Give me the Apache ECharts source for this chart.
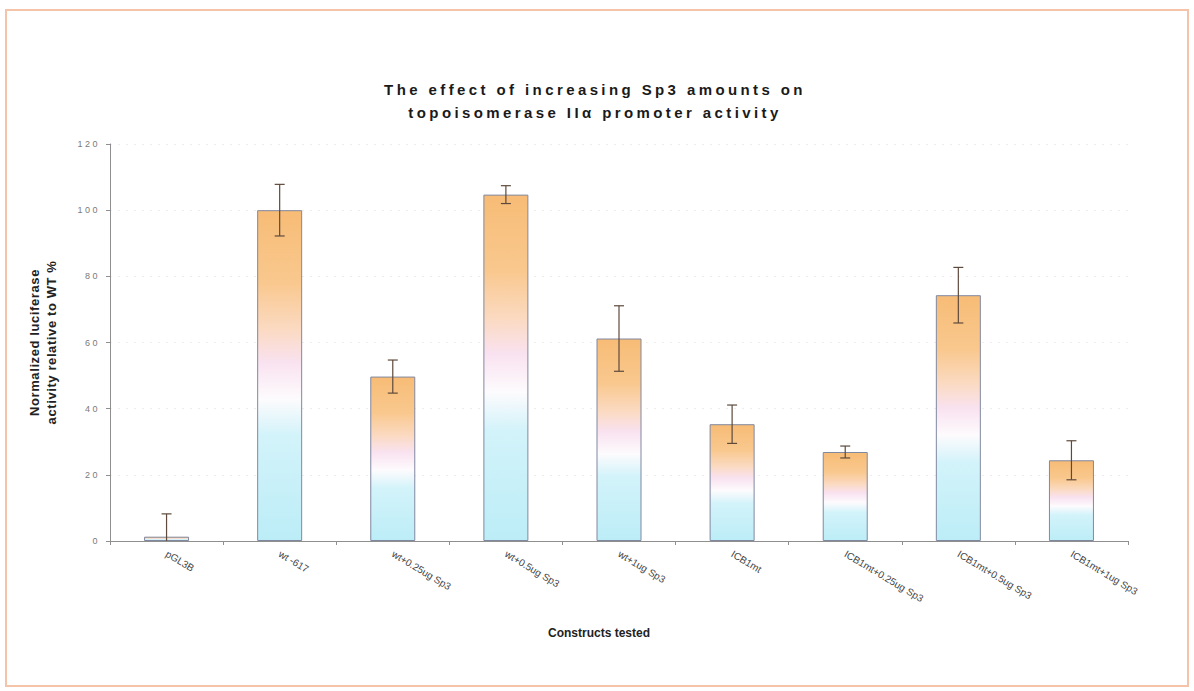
<!DOCTYPE html>
<html>
<head>
<meta charset="utf-8">
<script src="https://cdn.jsdelivr.net/npm/echarts@6/dist/echarts.min.js"></script>
<style>
  html, body { margin: 0; padding: 0; background: #ffffff; }
  #chart { width: 1194px; height: 691px; }
</style>
</head>
<body>
<div id="chart"></div>
<script>
// Constructs and their normalized luciferase activity (% of WT) with error margins
const categories = [
  'pGL3B', 'wt -617', 'wt+0.25ug Sp3', 'wt+0.5ug Sp3', 'wt+1ug Sp3',
  'ICB1mt', 'ICB1mt+0.25ug Sp3', 'ICB1mt+0.5ug Sp3', 'ICB1mt+1ug Sp3'
];
const activity = [1.3, 100, 49.7, 104.7, 61.2, 35.3, 26.9, 74.3, 24.4];
const errorMargin = [6.9, 7.8, 5.0, 2.7, 9.9, 5.8, 1.8, 8.4, 5.9];
const yTicks = { min: 0, max: 120, step: 20 };

const titleLines = ['The effect of increasing Sp3 amounts on', 'topoisomerase II\u03b1 promoter activity'];
const yNameLines = ['Normalized luciferase', 'activity relative to WT %'];
const xName = 'Constructs tested';

const errorData = categories.map((c, i) => [i, activity[i] - errorMargin[i], activity[i] + errorMargin[i]]);

const FONT = '"Liberation Sans", Arial, sans-serif';

const barFill = {
  type: 'linear', x: 0, y: 0, x2: 0, y2: 1,
  colorStops: [
    { offset: 0, color: '#f7bc76' },
    { offset: 0.22, color: '#f9c88e' },
    { offset: 0.36, color: '#fbdac2' },
    { offset: 0.46, color: '#f9e2f0' },
    { offset: 0.57, color: '#fdfbfd' },
    { offset: 0.68, color: '#d3f3fa' },
    { offset: 1, color: '#bcedf7' }
  ]
};

const chart = echarts.init(document.getElementById('chart'), null, { renderer: 'svg' });

chart.setOption({
  backgroundColor: '#ffffff',
  animation: false,
  textStyle: { fontFamily: FONT },
  title: [
    {
      text: titleLines.join('\n'),
      left: 590, top: 73, textAlign: 'center',
      textStyle: { fontSize: 15, fontWeight: 'bold', color: '#1a1a1a', lineHeight: 23, fontFamily: FONT }
    },
    {
      text: xName,
      left: 594, top: 622, textAlign: 'center',
      textStyle: { fontSize: 12, fontWeight: 'bold', color: '#222', fontFamily: FONT }
    }
  ],
  graphic: [
    {
      type: 'rect', silent: true,
      shape: { x: 6, y: 10, width: 1182, height: 676 },
      style: { fill: 'none', stroke: '#f4c3aa', lineWidth: 2 }
    }
  ],
  grid: { left: 110, right: 66, top: 144, bottom: 150, containLabel: false },
  xAxis: {
    type: 'category',
    data: categories,
    axisLine: { lineStyle: { color: '#8f8f8f', width: 1 } },
    axisTick: { show: true, alignWithLabel: false, length: 4, lineStyle: { color: '#8f8f8f' } },
    axisLabel: { rotate: -31, fontSize: 10, color: '#444', margin: 12, interval: 0, fontFamily: FONT }
  },
  yAxis: {
    type: 'value',
    min: yTicks.min, max: yTicks.max, interval: yTicks.step,
    name: yNameLines.join('\n'),
    nameLocation: 'middle',
    nameGap: 50,
    nameRotate: 90,
    nameTextStyle: { fontSize: 13, fontWeight: 'bold', color: '#222', lineHeight: 17, fontFamily: FONT },
    axisLine: { show: true, lineStyle: { color: '#8f8f8f', width: 1 } },
    axisTick: { show: true, length: 4, lineStyle: { color: '#8f8f8f' } },
    axisLabel: { fontSize: 9, color: '#7a7a7a', margin: 10, fontFamily: FONT },
    splitLine: { show: true, lineStyle: { color: '#eeeeee', type: [2, 6], width: 1 } }
  },
  series: [
    {
      type: 'bar',
      data: activity,
      barWidth: 45,
      itemStyle: { color: barFill, borderColor: '#8088a0', borderWidth: 1 },
      z: 2
    },
    {
      type: 'custom',
      data: errorData,
      z: 3,
      renderItem: function (params, api) {
        const i = api.value(0);
        const lo = Math.max(api.value(1), yTicks.min);
        const hi = api.value(2);
        const top = api.coord([i, hi]);
        const bot = api.coord([i, lo]);
        const cap = 5;
        const style = { stroke: '#5e4a3c', lineWidth: 1.2 };
        const children = [
          { type: 'line', shape: { x1: top[0], y1: top[1], x2: bot[0], y2: bot[1] }, style: style },
          { type: 'line', shape: { x1: top[0] - cap, y1: top[1], x2: top[0] + cap, y2: top[1] }, style: style }
        ];
        if (api.value(1) > yTicks.min) {
          children.push({ type: 'line', shape: { x1: bot[0] - cap, y1: bot[1], x2: bot[0] + cap, y2: bot[1] }, style: style });
        }
        return { type: 'group', children: children };
      }
    }
  ]
});

// Spread out the title, y axis name and y tick label lettering
function spaceText() {
  const svg = document.querySelector('#chart svg');
  if (!svg) return;
  svg.querySelectorAll('text').forEach(function (t) {
    const s = t.textContent;
    if (titleLines.indexOf(s) >= 0) {
      t.setAttribute('letter-spacing', '3.4');
    } else if (yNameLines.indexOf(s) >= 0) {
      t.setAttribute('letter-spacing', '0.6');
    } else if (/^\d+$/.test(s) && Number(s) <= yTicks.max) {
      t.setAttribute('letter-spacing', '2.5');
    }
  });
}
chart.on('finished', spaceText);
spaceText();
</script>
</body>
</html>
